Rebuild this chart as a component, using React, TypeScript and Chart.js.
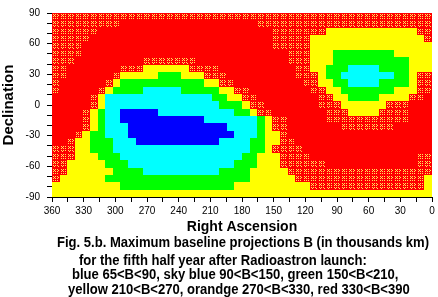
import React, { useEffect, useRef } from "react";
import { Chart, registerables } from "chart.js";
Chart.register(...registerables);

// Right ascension axis (degrees, drawn reversed) and declination axis
const raRange = [0, 360];
const decRange = [-90, 90];
const raTickStep = 15;
const raLabelStep = 30;
const decTickStep = 10;
const decLabelStep = 30;

// Colour classes of the baseline projection B (thousands km)
// B blue 65-90, C sky blue 90-150, G green 150-210, Y yellow 210-270, O orange 270-330 (hatched), R red 330-390
const classColors: Record<string, string> = {
  B: "#0000ff",
  C: "#00ffff",
  G: "#00ff00",
  Y: "#ffff00",
  R: "#ff0000",
  O: "#ff0000",
};
const hatchDotColor = "#ffe45c";

// Grid of cells: rows from Dec +90 (top) to -90, columns from RA 360 (left) to 0.
// Each row is run-length encoded: "<count><class>".
const cellRuns: string[] = [
  "50O",
  "9O 18R 23O",
  "6O 23R 7O 12Y 2O",
  "5O 24R 5O 15Y 1O",
  "4O 25R 5O 16Y",
  "4O 27R 3O 3Y 8G 5Y",
  "3O 9R 7O 12R 3O 3Y 10G 3Y",
  "2O 7R 3O 6Y 4O 10R 2O 2Y 3G 4C 4G 3Y",
  "2O 6R 1O 5Y 3G 3Y 3O 9R 3O 1Y 2G 7C 2G 1Y 2O",
  "1O 6R 1O 1Y 11G 2Y 2O 9R 2O 2Y 2G 4C 4G 1Y 2O",
  "1O 5R 1O 1Y 4G 5C 5G 2Y 2O 8R 2O 2Y 7G 3Y 2O",
  "5R 1O 1Y 14C 2G 2Y 2O 8R 2O 2Y 4G 4Y 2O 1R",
  "5R 1O 1Y 15C 3G 1Y 2O 7R 3O 6Y 3O 3R",
  "4R 1O 1Y 1G 2C 5B 10C 2G 1Y 2O 7R 3O 4Y 4O 3R",
  "4R 1O 1Y 1G 2C 11B 7C 1G 1Y 2O 5R 11O 3R",
  "4R 1O 1Y 1G 3C 13B 4C 1G 1Y 2O 7R 7O 5R",
  "3R 1O 1Y 2G 3C 14B 3C 1G 2Y 1O 19R",
  "2R 1O 2Y 3G 3C 11B 4C 2G 2Y 2O 18R",
  "3O 2Y 3G 18C 2G 1Y 4O 17R",
  "3O 3Y 3G 16C 2G 3Y 4O 14R 2O",
  "2O 5Y 3G 14C 3G 3Y 6O 12R 2O",
  "2O 6Y 4G 10C 4G 5Y 19O",
  "1O 6Y 19G 6Y 17O 1Y",
  "9Y 15G 10Y 15O 1Y",
  "50Y",
];

const captionLines = [
  "Fig. 5.b. Maximum baseline projections B (in thousands km)",
  "for the fifth half year after Radioastron launch:",
  "blue 65<B<90, sky blue 90<B<150, green 150<B<210,",
  "yellow 210<B<270, orandge 270<B<330, red 330<B<390",
];

function expandRow(runs: string): string[] {
  const out: string[] = [];
  runs.split(/\s+/).forEach((tok) => {
    const m = tok.match(/^(\d+)([A-Z])$/);
    if (!m) return;
    for (let i = 0; i < parseInt(m[1], 10); i++) out.push(m[2]);
  });
  return out;
}

const grid = cellRuns.map(expandRow);

// small "x" hatch marks inside a 4x4 repeat, used for the orange class
const hatchOffsets = [
  [1, 1],
  [3, 1],
  [2, 2],
  [1, 3],
  [3, 3],
];

function drawHatch(ctx: CanvasRenderingContext2D, x: number, y: number, w: number, h: number) {
  ctx.fillStyle = hatchDotColor;
  for (let v = 0; v < h - 1; v++) {
    for (let u = 0; u < w - 1; u++) {
      const a = u % 4;
      const b = v % 4;
      if (hatchOffsets.some(([p, q]) => p === a && q === b)) ctx.fillRect(x + u, y + v, 1, 1);
    }
  }
}

const cellPlugin = {
  id: "cells",
  beforeDatasetsDraw(chart: any) {
    const { ctx, chartArea, scales } = chart;
    const xs = scales.x;
    const ys = scales.y;
    const nRows = grid.length;
    const nCols = grid[0].length;
    const raSpan = raRange[1] - raRange[0];
    const decSpan = decRange[1] - decRange[0];
    ctx.save();
    ctx.beginPath();
    ctx.rect(chartArea.left, chartArea.top, chartArea.right - chartArea.left, chartArea.bottom - chartArea.top);
    ctx.clip();
    for (let j = 0; j < nRows; j++) {
      const decTop = decRange[1] - (j * decSpan) / nRows;
      const decBot = decRange[1] - ((j + 1) * decSpan) / nRows;
      const y0 = Math.round(ys.getPixelForValue(decTop));
      const y1 = Math.round(ys.getPixelForValue(decBot));
      for (let k = 0; k < nCols; k++) {
        const raL = raRange[1] - (k * raSpan) / nCols;
        const raR = raRange[1] - ((k + 1) * raSpan) / nCols;
        const x0 = Math.round(xs.getPixelForValue(raL));
        const x1 = Math.round(xs.getPixelForValue(raR));
        const code = grid[j][k];
        const cx = Math.min(x0, x1);
        const cy = Math.min(y0, y1);
        const cw = Math.abs(x1 - x0);
        const ch = Math.abs(y1 - y0);
        ctx.fillStyle = classColors[code] || "#ff0000";
        ctx.fillRect(cx, cy, cw, ch);
        if (code === "O") drawHatch(ctx, cx, cy, cw, ch);
      }
    }
    ctx.restore();
  },
};

const FONT = "'Liberation Sans', Arial, Helvetica, sans-serif";
const CAP_FONT_SIZE = 14;
const CAP_TARGET_WIDTH = 372; // width of the first caption line

function captionScale(): number {
  try {
    const c = document.createElement("canvas").getContext("2d")!;
    c.font = `bold ${CAP_FONT_SIZE}px 'Liberation Sans'`;
    const w = c.measureText(captionLines[0]).width;
    return w > 0 ? CAP_TARGET_WIDTH / w : 0.85;
  } catch (e) {
    return 0.85;
  }
}

export default function App() {
  const ref = useRef<HTMLCanvasElement>(null);
  useEffect(() => {
    const canvas = ref.current!;
    const chart = new Chart(canvas, {
      type: "scatter",
      data: { datasets: [{ data: [], pointRadius: 0 }] },
      options: {
        animation: false,
        responsive: false,
        maintainAspectRatio: false,
        devicePixelRatio: 1,
        layout: { padding: { top: 7, right: 6, left: 0, bottom: 0 } },
        plugins: { legend: { display: false }, tooltip: { enabled: false } },
        scales: {
          x: {
            type: "linear",
            min: raRange[0],
            max: raRange[1],
            reverse: true,
            afterFit(s: any) {
              s.height = 39;
            },
            ticks: {
              stepSize: raTickStep,
              autoSkip: false,
              maxRotation: 0,
              padding: 3,
              color: "#000",
              font: { family: FONT, size: 10 },
              callback: (v: any) => (Number(v) % raLabelStep === 0 ? String(v) : ""),
            },
            grid: { drawOnChartArea: false, drawTicks: true, tickLength: 5, color: "#000" },
            border: { color: "#000", width: 1 },
            title: {
              display: true,
              text: "Right Ascension",
              color: "#000",
              font: { family: FONT, size: 14, weight: "bold" },
              padding: 0,
            },
          },
          y: {
            type: "linear",
            min: decRange[0],
            max: decRange[1],
            afterFit(s: any) {
              s.width = 52;
            },
            ticks: {
              stepSize: decTickStep,
              autoSkip: false,
              padding: 7,
              color: "#000",
              font: { family: FONT, size: 10 },
              callback: (v: any) => (Number(v) % decLabelStep === 0 ? String(v) : ""),
            },
            grid: { drawOnChartArea: false, drawTicks: true, tickLength: 5, color: "#000" },
            border: { color: "#000", width: 1 },
            title: {
              display: true,
              text: "Declination",
              color: "#000",
              font: { family: FONT, size: 15, weight: "bold" },
              padding: 0,
            },
          },
        },
      },
      plugins: [cellPlugin],
    });
    return () => chart.destroy();
  }, []);

  const sx = captionScale();
  const capStyle = (left: number, top: number): React.CSSProperties => ({
    position: "absolute",
    left,
    top,
    whiteSpace: "nowrap",
    fontFamily: "'Liberation Sans', Arial, sans-serif",
    fontWeight: "bold",
    fontSize: CAP_FONT_SIZE,
    lineHeight: `${CAP_FONT_SIZE}px`,
    color: "#000",
    transform: `scaleX(${sx})`,
    transformOrigin: "0 0",
  });
  const capPos = [
    [57, 235],
    [79, 253],
    [72, 267],
    [68, 282],
  ];

  return (
    <div style={{ position: "fixed", left: 0, top: 0, width: 438, height: 297, background: "#fff", overflow: "hidden" }}>
      <canvas ref={ref} width={438} height={236} style={{ display: "block" }} />
      {captionLines.map((t, i) => (
        <div key={i} style={capStyle(capPos[i][0], capPos[i][1])}>
          {t}
        </div>
      ))}
    </div>
  );
}
